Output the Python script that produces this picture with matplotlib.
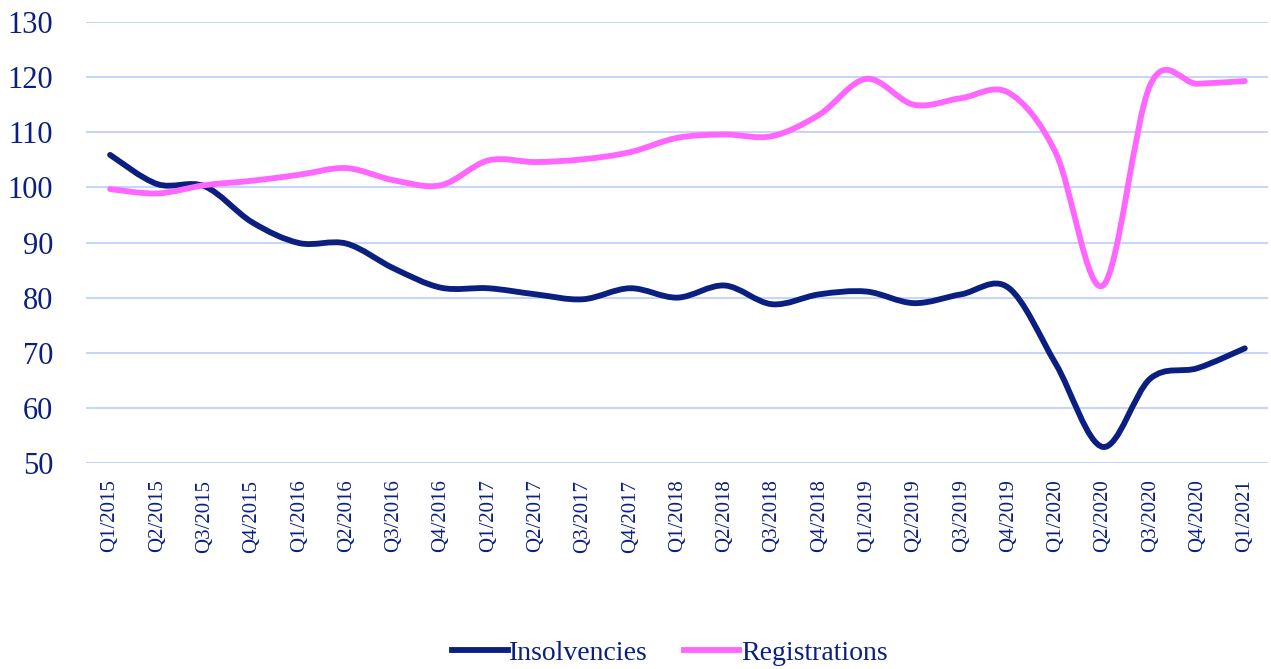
import matplotlib
matplotlib.use("Agg")
import matplotlib.pyplot as plt
from matplotlib.path import Path
from matplotlib.patches import PathPatch
from matplotlib.lines import Line2D

quarters = ["Q1/2015", "Q2/2015", "Q3/2015", "Q4/2015",
            "Q1/2016", "Q2/2016", "Q3/2016", "Q4/2016",
            "Q1/2017", "Q2/2017", "Q3/2017", "Q4/2017",
            "Q1/2018", "Q2/2018", "Q3/2018", "Q4/2018",
            "Q1/2019", "Q2/2019", "Q3/2019", "Q4/2019",
            "Q1/2020", "Q2/2020", "Q3/2020", "Q4/2020",
            "Q1/2021"]

insolvencies = [105.9, 100.6, 100.2, 93.7, 89.9, 89.8, 85.3, 81.8, 81.7,
                80.6, 79.7, 81.7, 80.0, 82.2, 78.8, 80.6, 81.1, 79.0,
                80.6, 81.8, 68.0, 52.9, 65.3, 67.2, 70.8]

registrations = [99.7, 98.9, 100.4, 101.2, 102.3, 103.5, 101.3, 100.4, 104.9,
                 104.6, 105.1, 106.4, 109.0, 109.6, 109.3, 113.2, 119.7, 115.0,
                 116.2, 117.2, 106.3, 82.2, 118.6, 118.8, 119.3]

navy = "#0B1F80"
pink = "#FF66FF"
grid = "#C8D4F8"

plt.rcParams["font.family"] = ["Liberation Serif", "DejaVu Serif"]


# smooth line like the spreadsheet "smoothed line" option (cubic bezier through points)
def smooth_path(xs, ys):
    pts = list(zip(xs, ys))
    n = len(pts)
    verts = [pts[0]]
    codes = [Path.MOVETO]
    for i in range(n - 1):
        p0 = pts[i - 1] if i > 0 else pts[i]
        p1 = pts[i]
        p2 = pts[i + 1]
        p3 = pts[i + 2] if i + 2 < n else pts[i + 1]
        c1 = (p1[0] + (p2[0] - p0[0]) / 6, p1[1] + (p2[1] - p0[1]) / 6)
        c2 = (p2[0] - (p3[0] - p1[0]) / 6, p2[1] - (p3[1] - p1[1]) / 6)
        verts += [c1, c2, p2]
        codes += [Path.CURVE4] * 3
    return Path(verts, codes)


fig = plt.figure(figsize=(12.71, 6.69), dpi=100)
ax = fig.add_axes([0.068, 0.308, 0.93, 0.659])

x = list(range(len(quarters)))
for ys, col in [(insolvencies, navy), (registrations, pink)]:
    patch = PathPatch(smooth_path(x, ys), facecolor="none", edgecolor=col,
                      lw=4.2, capstyle="round", joinstyle="round", zorder=3)
    ax.add_patch(patch)

ax.set_xlim(-0.5, len(quarters) - 0.5)
ax.set_ylim(50, 130)
ax.set_yticks(range(50, 131, 10))
ax.set_xticks(x)
ax.set_xticklabels(quarters, rotation=90)
ax.yaxis.grid(True, color=grid, lw=1.5)
ax.set_axisbelow(True)
for s in ax.spines.values():
    s.set_visible(False)
ax.tick_params(axis="both", length=0, colors=navy)
ax.tick_params(axis="y", labelsize=22, pad=24)
ax.tick_params(axis="x", labelsize=15, pad=12)

handles = [Line2D([], [], color=navy, lw=4.2),
           Line2D([], [], color=pink, lw=4.2)]
fig.legend(handles, ["Insolvencies", "Registrations"], loc="lower center",
           bbox_to_anchor=(0.527, -0.033), ncol=2, frameon=False, fontsize=20,
           labelcolor=navy, handlelength=2.0, handletextpad=0.05,
           columnspacing=1.3)

fig.savefig("out.png", dpi=100)
